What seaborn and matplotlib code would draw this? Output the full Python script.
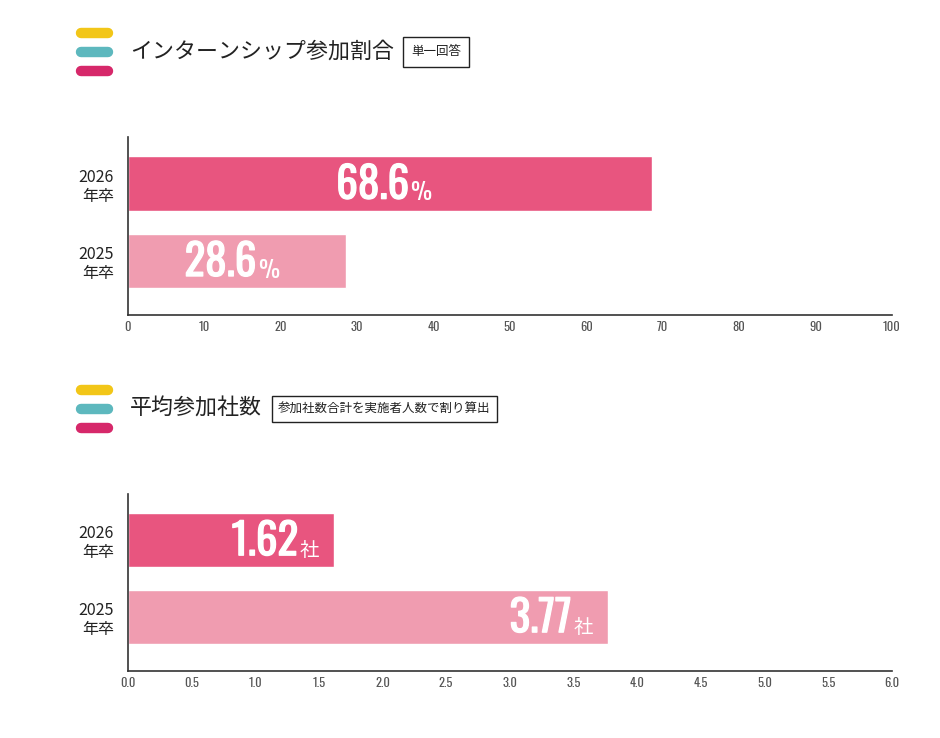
import matplotlib
matplotlib.use("Agg")
import matplotlib.pyplot as plt
from matplotlib.lines import Line2D
import matplotlib.patheffects as pe
import seaborn as sns
import logging

logging.getLogger("matplotlib.font_manager").setLevel(logging.ERROR)

# data
years = ["2026\n年卒", "2025\n年卒"]
rate_values = [68.6, 28.6]
company_values = [1.62, 3.77]
rate_ticks = list(range(0, 101, 10))
company_ticks = [0.0, 0.5, 1.0, 1.5, 2.0, 2.5, 3.0, 3.5, 4.0, 4.5, 5.0, 5.5, 6.0]

bar_colors = ["#E8557F", "#F09CB0"]
deco_colors = ["#F2C618", "#5DB8BE", "#D6286A"]

sns.set_style("white")
plt.rcParams["font.family"] = ["Noto Sans CJK JP", "DejaVu Sans"]
NARROW = ["Oswald", "DejaVu Sans"]
thick = [pe.withStroke(linewidth=0.9, foreground="white")]

fig = plt.figure(figsize=(9.4, 7.38), dpi=100)
ax1 = fig.add_axes([0.136, 0.573, 0.8128, 0.241])
ax2 = fig.add_axes([0.136, 0.0908, 0.8128, 0.2398])


def draw_bars(ax, values, xmax, ticks, fmt):
    sns.barplot(x=values, y=years, hue=years, palette=bar_colors, legend=False,
                orient="h", width=0.71, saturation=1, ax=ax)
    ax.set_xlim(0, xmax)
    ax.set_ylim(1.7, -0.6)
    ax.set_xticks(ticks)
    ax.set_xticklabels([fmt(t) for t in ticks], family=NARROW, fontweight="light",
                       fontsize=9, color="#555555")
    ax.set_yticks([0, 1])
    ax.set_yticklabels(years, fontsize=11.5, color="#222222", ha="right",
                       linespacing=1.15)
    ax.tick_params(axis="x", direction="in", length=4, width=0.8, color="#333333", pad=4)
    ax.tick_params(axis="y", length=0, pad=10)
    for s in ["top", "right"]:
        ax.spines[s].set_visible(False)
    for s in ["left", "bottom"]:
        ax.spines[s].set_color("#333333")
        ax.spines[s].set_linewidth(1.2)
    ax.set_xlabel("")
    ax.set_ylabel("")


draw_bars(ax1, rate_values, 100, rate_ticks, lambda t: f"{t:d}")
draw_bars(ax2, company_values, 6, company_ticks, lambda t: f"{t:.1f}")

# value labels
for i, v in enumerate(rate_values):
    x = v / 2 + 2.5
    ax1.text(x, i + 0.02, f"{v:.1f}", ha="right", va="center", color="white",
             family=NARROW, fontweight="bold", fontsize=31, path_effects=thick)
    ax1.text(x + 0.2, i + 0.12, "%", ha="left", va="center", color="white",
             family=NARROW, fontweight="light", fontsize=17)

for i, v in enumerate(company_values):
    ax2.annotate(f"{v:.2f}", (v, i + 0.02), xytext=(-26, 0), textcoords="offset points",
                 ha="right", va="center", color="white", family=NARROW,
                 fontweight="bold", fontsize=31, path_effects=thick)
    ax2.annotate("社", (v, i + 0.13), xytext=(-25, 0), textcoords="offset points",
                 ha="left", va="center", color="white", fontsize=14)


# headers
def header(y_px, title, note, note_x, pad):
    H = 738.0
    for k, c in enumerate(deco_colors):
        yy = 1 - (y_px - 19 + k * 19) / H
        fig.add_artist(Line2D([81 / 940, 108 / 940], [yy, yy], color=c, lw=7.5,
                              solid_capstyle="round", transform=fig.transFigure))
    fig.text(130 / 940, 1 - y_px / H, title, fontsize=15.8, va="center", ha="left",
             color="#222222")
    fig.text(note_x / 940, 1 - y_px / H, note, fontsize=9, va="center", ha="left",
             color="#222222",
             bbox=dict(boxstyle=f"square,pad={pad}", fc="white", ec="#222222", lw=1))


header(52, "インターンシップ参加割合", "単一回答", 411, 0.65)
header(409, "平均参加社数", "参加社数合計を実施者人数で割り算出", 278, 0.5)

fig.savefig("out.png", dpi=100, facecolor="white")
